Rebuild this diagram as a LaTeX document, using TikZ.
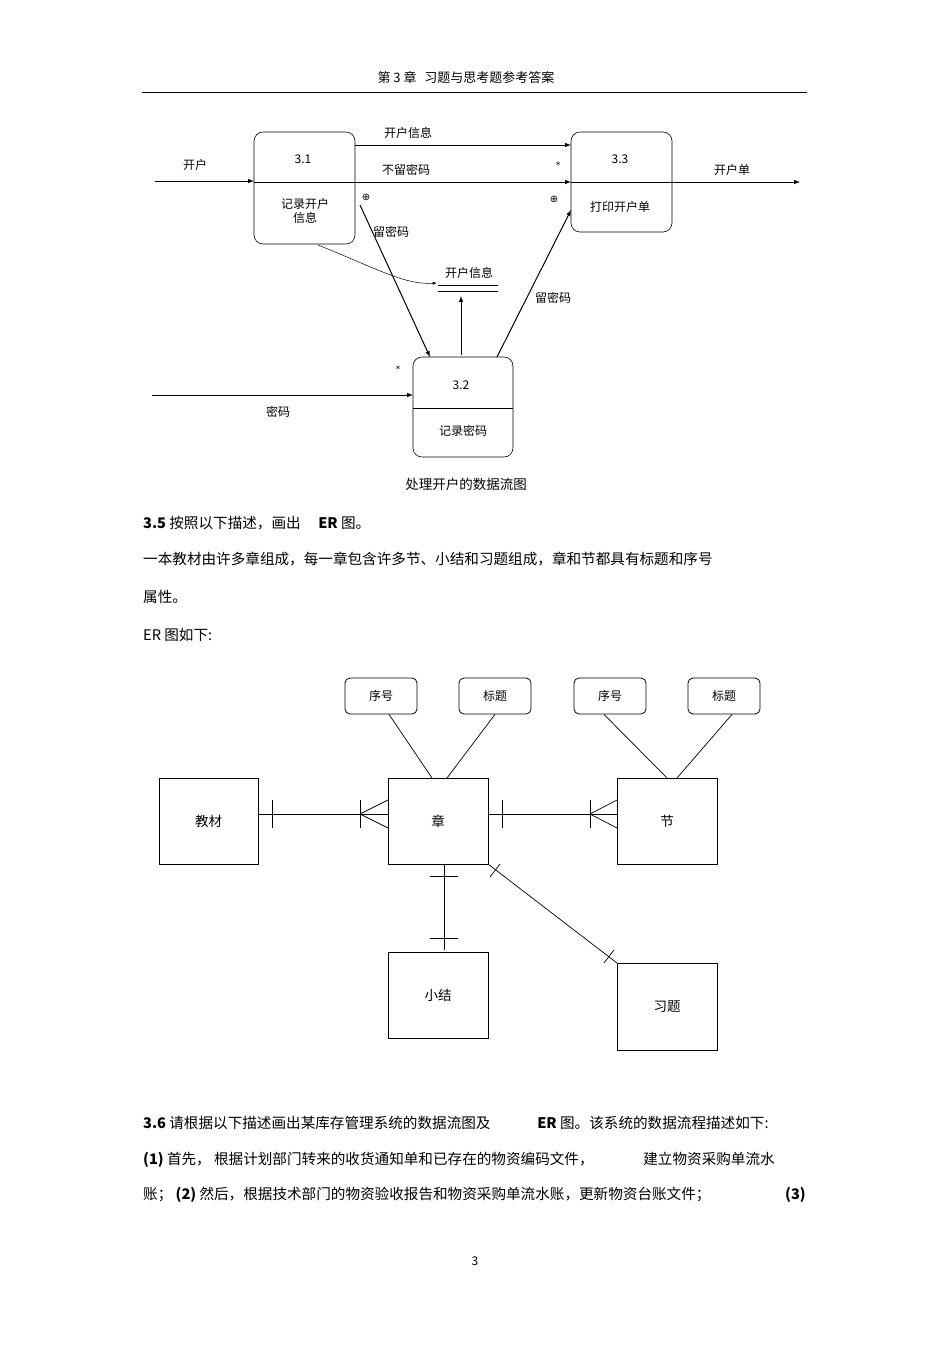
\documentclass[tikz,border=0pt]{standalone}
\usepackage{fontspec}
\setmainfont{Noto Sans CJK SC}
\newfontfamily\symf{DejaVu Sans}
\begin{document}
\begin{tikzpicture}[x=1pt,y=-1pt,
  proc/.style={draw,rounded corners=9pt,line width=0.6pt},
  ent/.style={draw,line width=0.9pt},
  attr/.style={draw,rounded corners=5pt,line width=0.8pt},
  flow/.style={-latex,line width=1pt},
  rel/.style={line width=0.7pt},
  lab/.style={font=\fontsize{12}{14}\selectfont,inner sep=0pt},
  elab/.style={font=\fontsize{13.5}{15}\selectfont,inner sep=0pt},
  body/.style={font=\fontsize{14.6}{16}\selectfont,inner sep=0pt,anchor=west}]
\useasboundingbox (0,0) rectangle (950,1345);
\fill[white] (0,0) rectangle (950,1345);
% header
\node[lab,font=\fontsize{13}{14}\selectfont] (hdr) at (466,77) {第 3 章\hspace{0.6em}习题与思考题参考答案};
\draw[line width=0.7pt] (142,92) coordinate (h1) -- (807,92) coordinate (h2);
% DFD boxes
\draw[proc] (254,132) rectangle (355,244); \draw[line width=0.5pt] (254,182) -- (355,182);
\node[lab] (p1n) at (303,159) {3.1};
\node[lab,align=center] (p1) at (305,211) {记录开户\\信息};
\draw[proc] (571,132) rectangle (672,232); \draw[line width=0.5pt] (571,182) -- (672,182);
\node[lab] (p3n) at (620,159) {3.3};
\node[lab] (p3) at (620,207) {打印开户单};
\draw[proc] (413,357) rectangle (513,457); \draw[line width=0.5pt] (413,408) -- (513,408);
\node[lab] (p2n) at (461,385) {3.2};
\node[lab] (p2) at (463,431) {记录密码};
\coordinate (a0) at (155,181); \coordinate (a1) at (254,181);
\draw[flow] (a0) -- (a1); \node[lab] at (195,165) {开户};
\coordinate (b0) at (355,145); \coordinate (b1) at (571,145);
\draw[flow] (b0) -- (b1); \node[lab] at (408,133) {开户信息};
\coordinate (c0) at (355,182); \coordinate (c1) at (571,182);
\draw[flow] (c0) -- (c1); \node[lab] at (406,170) {不留密码};
\coordinate (d0) at (672,182); \coordinate (d1) at (800,182);
\draw[flow] (d0) -- (d1); \node[lab] at (732,170) {开户单};
\coordinate (e0) at (360,205); \coordinate (e1) at (430,357);
\draw[flow] (e0) -- (e1); \node[lab] at (391,232) {留密码};
\node[lab] (st) at (469,273) {开户信息};
\draw[line width=0.6pt] (438,285) -- (498,285) (438,291) -- (498,291);
\coordinate (f0) at (318,245); \coordinate (f1) at (437,283);
\draw[-latex,line width=0.5pt] (f0) .. controls (380,270) and (405,285) .. (f1);
\coordinate (g0) at (461,355); \coordinate (g1) at (461,296);
\draw[flow] (g0) -- (g1);
\coordinate (k0) at (497,357); \coordinate (k1) at (571,210);
\draw[flow] (k0) -- (k1); \node[lab] at (553,298) {留密码};
\coordinate (m0) at (152,395); \coordinate (m1) at (413,395);
\draw[flow] (m0) -- (m1); \node[lab] at (278,412) {密码};
\node[lab,font=\symf\fontsize{9}{10}\selectfont] at (558,165) {*};
\node[lab,font=\symf\fontsize{9}{10}\selectfont] at (398,369) {*};
\node[lab,font=\symf\fontsize{10}{11}\selectfont] at (366,197) {⊕};
\node[lab,font=\symf\fontsize{10}{11}\selectfont] at (554,199) {⊕};
\node[lab,font=\fontsize{13.5}{15}\selectfont] (cap) at (466,484) {处理开户的数据流图};
% text
\node[body] (t1) at (143,523) {\textbf{3.5} 按照以下描述，画出\hspace{1.2em}\textbf{ER} 图。};
\node[body] (t2) at (143,559) {一本教材由许多章组成，每一章包含许多节、小结和习题组成，章和节都具有标题和序号};
\node[body] (t3) at (143,597) {属性。};
\node[body] (t4) at (143,635) {ER 图如下:};
% ER
\node[ent,minimum width=99pt,minimum height=86pt,elab] (jc) at (208.5,821) {教材};
\node[ent,minimum width=100pt,minimum height=86pt,elab] (zh) at (438,821) {章};
\node[ent,minimum width=100pt,minimum height=86pt,elab] (jie) at (667,821) {节};
\node[ent,minimum width=100pt,minimum height=86pt,elab] (xj) at (438,995) {小结};
\node[ent,minimum width=100pt,minimum height=87pt,elab] (xt) at (667,1006.5) {习题};
\node[attr,minimum width=72pt,minimum height=36pt,lab] (a1) at (381,696) {序号};
\node[attr,minimum width=72pt,minimum height=36pt,lab] (a2) at (495,696) {标题};
\node[attr,minimum width=72pt,minimum height=36pt,lab] (a3) at (610,696) {序号};
\node[attr,minimum width=72pt,minimum height=36pt,lab] (a4) at (724,696) {标题};
\draw[rel] (a1.south)++(8,0) -- (432,778);
\draw[rel] (a2.south) -- (447,778);
\draw[rel] (a3.south)++(-6,0) -- (667,778);
\draw[rel] (a4.south)++(8,0) -- (677,778);
% jc - zh
\draw[rel] (258,814) -- (388,814);
\draw[rel] (272,800) -- (272,828) (360,800) -- (360,828);
\draw[rel] (360,814) -- (388,800) (360,814) -- (388,828);
% zh - jie
\draw[rel] (488,814) -- (617,814);
\draw[rel] (502,800) -- (502,828) (590,800) -- (590,828);
\draw[rel] (590,814) -- (617,800) (590,814) -- (617,828);
% zh - xj
\draw[rel] (444,864) -- (444,950);
\draw[rel] (430,876) -- (458,876) (430,938) -- (458,938);
% zh - xt
\draw[rel] (488,864) -- (617,963);
\draw[rel] (490,877) -- (500,864) (604,963) -- (614,950);
% bottom text
\node[body] (t5) at (143,1123) {\textbf{3.6} 请根据以下描述画出某库存管理系统的数据流图及\hspace{3.2em}\textbf{ER} 图。该系统的数据流程描述如下:};
\node[body] (t6) at (143,1160) {\textbf{(1)} 首先， 根据计划部门转来的收货通知单和已存在的物资编码文件，\hspace{3.4em}建立物资采购单流水};
\node[body] (t7) at (143,1195) {账； \textbf{(2)} 然后，根据技术部门的物资验收报告和物资采购单流水账，更新物资台账文件；};
\node[body,anchor=east] (t8) at (806,1195) {\textbf{(3)}};
\node[lab] (pg) at (475,1261) {3};
\end{tikzpicture}
\end{document}
